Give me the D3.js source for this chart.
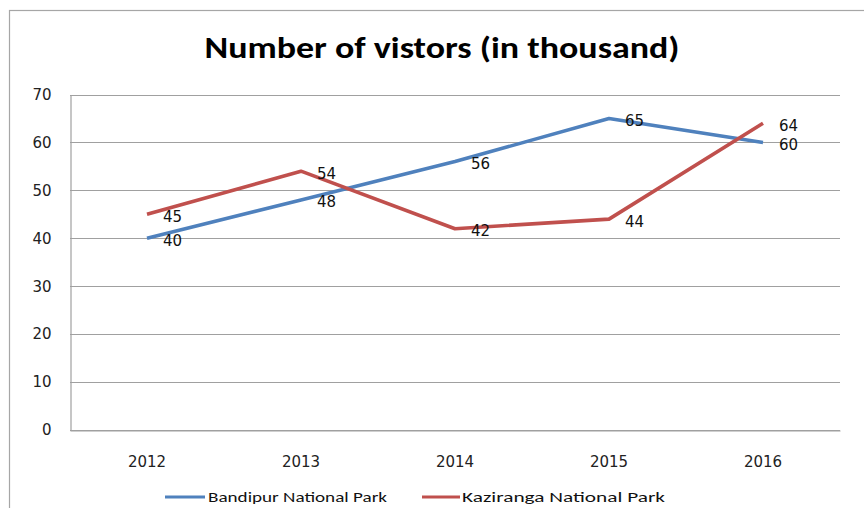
<!DOCTYPE html>
<html><head><meta charset="utf-8">
<script src="https://cdn.jsdelivr.net/npm/d3@7"></script>
<style>
html,body{margin:0;padding:0;background:#fff;}
svg{display:block;}
</style></head>
<body>
<svg id="chart" width="864" height="508"></svg>
<script>
const categories = ["2012","2013","2014","2015","2016"];
const bandipur = [40,48,56,65,60];
const kaziranga = [45,54,42,44,64];
const seriesNames = ["Bandipur National Park","Kaziranga National Park"];
const seriesColors = ["#4F81BD","#C0504D"];
const yTicks = [0,10,20,30,40,50,60,70];
const title = "Number of vistors (in thousand)";

const svg = d3.select("#chart");

// outer chart border
svg.append("rect").attr("x",9.5).attr("y",10.5).attr("width",900).attr("height",600)
  .attr("fill","#ffffff").attr("stroke","#a6a6a6").attr("stroke-width",1.2);

const x = d3.scaleBand().domain(categories).range([70,840]);
const y = d3.scaleLinear().domain([0,70]).range([430,94.5]);

// gridlines
const grid = svg.append("g");
grid.selectAll("line").data(yTicks).join("line")
  .attr("x1",70).attr("x2",840)
  .attr("y1",d=>Math.round(y(d))+0.5).attr("y2",d=>Math.round(y(d))+0.5)
  .attr("stroke","#a0a0a0").attr("stroke-width",1.2);

const tickFont = "DejaVu Sans, Verdana, sans-serif";

// y axis
const yAxis = svg.append("g").attr("transform","translate(70.5,0)")
  .call(d3.axisLeft(y).tickValues(yTicks).tickSize(0).tickPadding(19));
yAxis.select(".domain").attr("stroke","#a0a0a0").attr("stroke-width",1.2);
yAxis.selectAll("text").attr("font-family",tickFont)
  .attr("font-size","15px").attr("fill","#222");

// x axis
const xAxis = svg.append("g").attr("transform","translate(0,430.5)")
  .call(d3.axisBottom(x).tickSize(0).tickPadding(26));
xAxis.select(".domain").attr("stroke","#a0a0a0").attr("stroke-width",1.2);
xAxis.selectAll("text").attr("font-family",tickFont)
  .attr("font-size","15px").attr("fill","#222");

const cx = d => x(d) + x.bandwidth()/2;
const line = d3.line().x((d,i)=>cx(categories[i])).y(d=>y(d));

const series = [bandipur, kaziranga];
series.forEach((s,k)=>{
  svg.append("path").datum(s).attr("d",line)
    .attr("fill","none").attr("stroke",seriesColors[k]).attr("stroke-width",3.6)
    .attr("stroke-linejoin","round").attr("stroke-linecap","butt");
});
series.forEach((s,k)=>{
  svg.append("g").selectAll("text").data(s).join("text")
    .attr("x",(d,i)=>cx(categories[i])+16)
    .attr("y",d=>y(d)+7.5)
    .attr("font-family",tickFont)
    .attr("font-size","15px").attr("fill","#111")
    .text(d=>d);
});

// title
svg.append("text").attr("x",442).attr("y",58).attr("text-anchor","middle")
  .attr("font-family","Carlito, 'Liberation Sans Narrow', 'Open Sans', sans-serif")
  .attr("font-weight","bold").attr("font-size","30px").attr("fill","#000")
  .attr("textLength",475).attr("lengthAdjust","spacingAndGlyphs")
  .text(title);

// legend
const legendItems = [
  {x1:165,x2:205,tx:208,tw:179},
  {x1:422,x2:460,tx:462,tw:203}
];
legendItems.forEach((it,k)=>{
  svg.append("line").attr("x1",it.x1).attr("x2",it.x2).attr("y1",497).attr("y2",497)
    .attr("stroke",seriesColors[k]).attr("stroke-width",3);
  svg.append("text").attr("x",it.tx).attr("y",502)
    .attr("font-family","Carlito, 'Open Sans', sans-serif")
    .attr("font-size","15px").attr("fill","#111")
    .attr("textLength",it.tw).attr("lengthAdjust","spacingAndGlyphs")
    .text(seriesNames[k]);
});
</script>
</body></html>
